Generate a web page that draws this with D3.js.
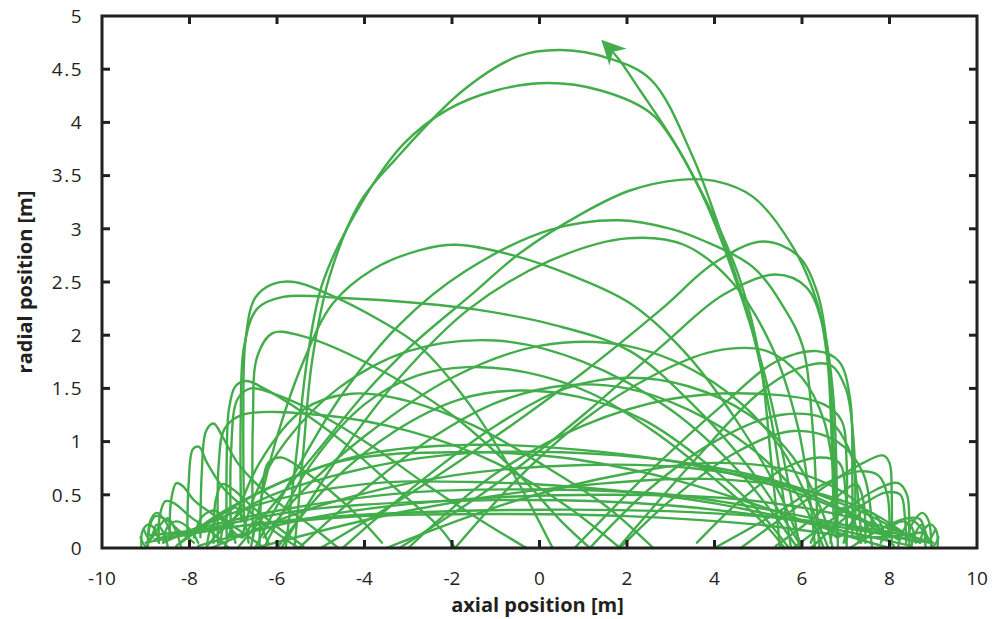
<!DOCTYPE html>
<html>
<head>
<meta charset="utf-8">
<script src="https://cdn.jsdelivr.net/npm/d3@7"></script>
<style>
  html, body { margin: 0; padding: 0; background: #fff; }
  svg { display: block; }
  .tick-label { font-family: "Open Sans", "Noto Sans", sans-serif; font-size: 19px; fill: #231f20; }
  .axis-title { font-family: "Open Sans", "Noto Sans", sans-serif; font-size: 20px; font-weight: 700; fill: #231f20; }
</style>
</head>
<body>
<svg id="chart" width="993" height="619"></svg>
<script>
// Axis ticks
const xTicks = [-10, -8, -6, -4, -2, 0, 2, 4, 6, 8, 10];
const yTicks = [0, 0.5, 1, 1.5, 2, 2.5, 3, 3.5, 4, 4.5, 5];

// Trajectory pieces in (axial, radial) metres.
// Tall excursions reaching above 4 m
const tallArcs = [
  [[-5.6,0],[-5.4,0.9],[-5.2,1.75],[-4.8,2.55],[-4.1,3.25],[-3.3,3.65],[-1.75,4.3],[-0.5,4.62],[0.5,4.68],[1.6,4.6],[2.55,4.4],[3.5,3.68],[4.2,2.9],[4.8,2.14],[5.3,1.2],[5.6,0.4],[5.75,0]],
  [[-5.8,0],[-5.55,0.9],[-5.3,1.8],[-4.95,2.5],[-4.03,3.27],[-3.1,3.8],[-2.1,4.12],[-1.0,4.3],[0.2,4.37],[1.4,4.3],[2.5,4.1],[3.0,3.86],[3.8,3.25],[4.5,2.5],[5.1,1.7],[5.6,0.8],[5.95,0]]
];

// Excursions peaking between 2.3 and 3.5 m
const upperArcs = [
  [[-6.9,0],[-6.0,0.45],[-5.0,0.95],[-4.0,1.45],[-2.96,1.89],[-1.5,2.4],[-0.45,2.77],[1.0,3.15],[2.07,3.36],[3.2,3.46],[4.0,3.45],[4.88,3.3],[5.79,2.83],[6.35,2.3],[6.58,1.77],[6.68,1.0],[6.72,0.3]],
  [[-6.5,0],[-5.6,0.7],[-4.5,1.45],[-3.2,2.1],[-1.7,2.6],[0.24,2.99],[1.8,3.08],[3.0,3.0],[3.74,2.89],[4.88,2.64],[5.6,2.25],[6.02,1.89],[6.25,1.1],[6.35,0.3],[6.4,0]],
  [[-5.9,0],[-4.6,0.85],[-3.2,1.6],[-1.6,2.25],[0.24,2.7],[2.0,2.91],[3.3,2.85],[4.4,2.5],[5.3,1.9],[5.9,1.15],[6.2,0.4],[6.3,0]],
  [[-6.6,0],[-6.1,0.9],[-5.4,1.75],[-4.72,2.3],[-3.8,2.62],[-2.73,2.8],[-1.9,2.85],[-0.6,2.75],[0.8,2.55],[2.07,2.3],[3.3,1.85],[4.5,1.2],[5.5,0.5],[6.0,0]],
  [[-6.75,0.25],[-6.77,1.2],[-6.72,1.95],[-6.5,2.35],[-6.1,2.48],[-5.6,2.5],[-4.9,2.4],[-3.65,2.14],[-2.73,1.89],[-1.6,1.35],[-0.6,0.7],[0.3,0]],
  [[-6.82,0.25],[-6.83,1.2],[-6.75,1.9],[-6.45,2.25],[-5.86,2.36],[-4.5,2.35],[-2.73,2.3],[-1.43,2.24],[0.3,2.1],[2.07,1.85],[3.5,1.35],[4.8,0.75],[5.7,0.2],[6.0,0]],
  [[-5.0,0],[-3.0,0.5],[-1.0,1.05],[1.0,1.65],[2.8,2.25],[4.0,2.68],[5.1,2.88],[5.9,2.75],[6.35,2.4],[6.6,1.8],[6.72,1.0],[6.78,0.2]],
  [[-3.2,0],[-1.0,0.6],[1.0,1.25],[2.8,1.9],[4.2,2.38],[5.4,2.57],[6.1,2.45],[6.5,2.05],[6.72,1.4],[6.8,0.5],[6.82,0]]
];

// Excursions peaking between 1 and 2 m
const middleArcs = [
  [[0.8,0],[2.6,0.75],[4.2,1.35],[5.4,1.75],[6.35,1.85],[6.85,1.75],[7.1,1.4],[7.15,0.7],[7.15,0.1]],
  [[1.8,0],[3.6,0.85],[5.0,1.45],[6.0,1.7],[6.65,1.72],[7.0,1.5],[7.18,1.0],[7.22,0.3]],
  [[-6.3,0],[-5.2,0.8],[-4.0,1.35],[-2.8,1.62],[-1.66,1.7],[-0.3,1.65],[1.2,1.45],[2.6,1.1],[4.0,0.65],[5.2,0.2],[5.6,0]],
  [[-6.0,0],[-4.8,0.6],[-3.3,1.1],[-1.8,1.4],[-0.5,1.48],[0.9,1.42],[2.4,1.2],[3.8,0.8],[5.0,0.35],[5.7,0]],
  [[-5.5,0],[-4.0,0.55],[-2.4,1.05],[-0.9,1.38],[0.63,1.53],[2.0,1.5],[3.4,1.3],[4.8,0.95],[5.9,0.5],[6.5,0]],
  [[-4.5,0],[-2.8,0.6],[-1.0,1.15],[0.6,1.5],[2.0,1.6],[3.4,1.52],[4.8,1.25],[5.8,0.85],[6.5,0.3],[6.7,0]],
  [[-7.2,0],[-6.4,0.8],[-5.4,1.3],[-4.3,1.45],[-3.0,1.38],[-1.5,1.15],[0.0,0.8],[1.5,0.4],[2.6,0]],
  [[-7.15,0.1],[-7.15,0.8],[-7.1,1.3],[-6.95,1.52],[-6.7,1.57],[-6.3,1.5],[-5.5,1.3],[-4.5,1.0],[-3.4,0.6],[-2.3,0.2],[-1.93,0]],
  [[-7.05,0.1],[-7.05,0.9],[-6.9,1.4],[-6.6,1.5],[-6.0,1.44],[-5.0,1.25],[-3.8,0.95],[-2.6,0.6],[-1.3,0.25],[-0.3,0]],
  [[-1.93,0],[-0.5,0.65],[1.0,1.2],[2.5,1.6],[4.0,1.85],[5.2,1.85],[6.0,1.6],[6.5,1.2],[6.75,0.6],[6.8,0.1]],
  [[-7.35,0.05],[-7.33,0.8],[-7.2,1.12],[-6.8,1.25],[-5.0,1.25],[-3.0,1.1],[-1.0,0.8],[0.6,0.4],[1.84,0]],
  [[-6.55,0.1],[-6.55,1.2],[-6.45,1.8],[-6.1,2.02],[-5.5,2.0],[-4.0,1.75],[-2.0,1.25],[-0.5,0.7],[0.5,0.25],[1.15,0]],
  [[1.15,0],[2.5,0.55],[4.0,1.0],[5.5,1.25],[6.6,1.2],[7.1,0.9],[7.3,0.4],[7.35,0.05]],
  [[1.84,0],[3.0,0.45],[4.5,0.9],[5.8,1.1],[6.8,1.0],[7.4,0.7],[7.6,0.2]],
  [[7.0,0.05],[7.02,0.8],[6.9,1.2],[6.5,1.35],[5.0,1.45],[3.0,1.4],[1.0,1.15],[-1.0,0.7],[-2.2,0.3],[-3.0,0]],
  [[5.9,0],[4.6,0.7],[3.0,1.3],[1.0,1.75],[-1.0,1.95],[-3.0,1.85],[-4.6,1.5],[-5.8,1.0],[-6.5,0.5],[-6.8,0.1]],
  [[6.6,0],[5.5,0.95],[4.0,1.55],[2.0,1.9],[0.0,1.9],[-2.0,1.6],[-4.0,1.05],[-5.5,0.5],[-6.3,0.1]]
];

// Long, shallow crossings of the whole trap
const lowBandArcs = [
  [[-8.2,0.05],[-6.5,0.5],[-4.5,0.82],[-2.0,0.9],[0.5,0.85],[3.0,0.65],[5.0,0.4],[7.0,0.12],[8.0,0]],
  [[-7.5,0],[-5.0,0.4],[-2.0,0.68],[1.0,0.78],[3.5,0.75],[5.5,0.6],[7.0,0.35],[8.2,0.08]],
  [[-8.6,0.05],[-6.5,0.4],[-4.0,0.6],[-1.5,0.62],[1.5,0.55],[4.0,0.42],[6.5,0.2],[8.5,0.02]],
  [[-8.8,0.08],[-6.0,0.35],[-3.0,0.52],[0.0,0.55],[3.0,0.5],[6.0,0.3],[8.7,0.05]],
  [[-7.8,0.02],[-5.0,0.3],[-2.0,0.45],[1.5,0.5],[4.5,0.46],[7.0,0.3],[8.6,0.1]],
  [[-8.4,0.1],[-5.5,0.35],[-1.0,0.45],[3.0,0.4],[6.5,0.22],[8.9,0.05]],
  [[-9.0,0.05],[-6.0,0.25],[0.0,0.36],[5.0,0.3],[8.0,0.15],[9.0,0.05]],
  [[-6.5,0],[-3.0,0.35],[0.5,0.57],[3.8,0.65],[6.0,0.55],[7.5,0.35],[8.3,0.15]],
  [[-3.5,0],[-0.5,0.45],[2.0,0.7],[4.0,0.8],[5.8,0.72],[7.2,0.45],[7.9,0.1]],
  [[-8.3,0.02],[-7.4,0.3],[-6.0,0.6],[-4.0,0.88],[-1.5,0.97],[1.0,0.92],[3.5,0.78],[6.0,0.5],[7.6,0.2],[8.1,0.02]],
  [[-7.6,0.02],[-6.6,0.4],[-4.5,0.7],[-2.0,0.88],[0.5,0.9],[3.0,0.82],[5.5,0.62],[7.3,0.35],[8.4,0.12]],
  [[-8.9,0.12],[-7.0,0.2],[-4.0,0.3],[-1.0,0.32],[2.0,0.3],[5.0,0.22],[7.5,0.1],[8.8,0.15]]
];

// Turning loops near the left end of the trap
const leftTurnLoops = [
  [[-7.75,0.1],[-7.72,0.7],[-7.62,1.1],[-7.45,1.17],[-7.25,1.05],[-6.9,0.8],[-6.2,0.5],[-5.2,0.2],[-4.6,0]],
  [[-8.05,0.1],[-8.02,0.6],[-7.92,0.93],[-7.78,0.95],[-7.6,0.8],[-7.2,0.55],[-6.5,0.3],[-5.8,0.08],[-5.5,0]],
  [[-8.45,0.1],[-8.42,0.45],[-8.3,0.61],[-8.15,0.58],[-7.9,0.45],[-7.4,0.3],[-6.8,0.15],[-6.3,0]],
  [[-8.7,0.05],[-8.68,0.3],[-8.55,0.44],[-8.35,0.42],[-8.0,0.3],[-7.5,0.15],[-7.1,0]],
  [[-8.95,0.05],[-8.9,0.22],[-8.78,0.3],[-8.55,0.27],[-8.2,0.15],[-7.9,0.05]],
  [[-9.1,0.02],[-9.08,0.15],[-8.95,0.22],[-8.8,0.18],[-8.7,0.05]],
  [[-9.12,0.1],[-9.0,0.02],[-8.85,0.12],[-8.75,0.22],[-8.6,0.15],[-8.5,0.02]],
  [[-9.05,0.18],[-8.9,0.08],[-8.7,0.2],[-8.5,0.28],[-8.3,0.15],[-8.2,0.02]],
  [[-8.95,0.02],[-8.9,0.25],[-8.75,0.33],[-8.55,0.25],[-8.4,0.1]],
  [[-8.6,0.05],[-8.5,0.2],[-8.3,0.25],[-8.0,0.18],[-7.8,0.05]],
  [[-7.6,0.02],[-7.5,0.2],[-7.3,0.28],[-7.1,0.22],[-6.95,0.05]],
  [[-7.3,0.05],[-7.15,0.3],[-6.95,0.38],[-6.75,0.25],[-6.65,0.05]],
  [[-7.9,0.1],[-7.7,0.3],[-7.4,0.35],[-7.1,0.2],[-6.8,0.1],[-6.5,0.25],[-6.2,0.05]],
  [[-7.45,0.05],[-7.4,0.45],[-7.25,0.6],[-7.0,0.55],[-6.6,0.4],[-6.0,0.2],[-5.4,0.02]],
  [[-6.4,0.02],[-6.35,0.5],[-6.2,0.8],[-5.9,0.85],[-5.3,0.7],[-4.4,0.4],[-3.6,0.05]]
];

// Turning loops near the right end of the trap
const rightTurnLoops = [
  [[4.6,0],[5.6,0.3],[6.6,0.6],[7.4,0.8],[7.85,0.87],[8.0,0.8],[8.05,0.5],[8.05,0.05]],
  [[4.0,0],[5.3,0.3],[6.5,0.6],[7.3,0.72],[7.75,0.68],[7.95,0.5],[8.0,0.1]],
  [[5.8,0],[6.8,0.3],[7.7,0.55],[8.2,0.61],[8.4,0.5],[8.45,0.2],[8.45,0]],
  [[6.2,0],[7.2,0.35],[7.9,0.52],[8.25,0.5],[8.35,0.3],[8.38,0.05]],
  [[7.1,0],[7.8,0.18],[8.4,0.28],[8.7,0.27],[8.8,0.15],[8.82,0]],
  [[8.7,0.05],[8.8,0.18],[8.95,0.22],[9.08,0.15],[9.1,0.02]],
  [[8.5,0.02],[8.6,0.15],[8.75,0.22],[8.85,0.12],[9.0,0.02],[9.12,0.1]],
  [[8.2,0.02],[8.3,0.15],[8.5,0.26],[8.7,0.2],[8.9,0.08],[9.05,0.18]],
  [[8.4,0.1],[8.55,0.25],[8.75,0.33],[8.9,0.25],[8.95,0.02]],
  [[7.8,0.05],[8.0,0.18],[8.3,0.25],[8.5,0.2],[8.6,0.05]],
  [[6.95,0.05],[7.1,0.22],[7.3,0.28],[7.5,0.2],[7.6,0.02]],
  [[6.65,0.05],[6.75,0.25],[6.95,0.38],[7.15,0.3],[7.3,0.05]],
  [[6.2,0.05],[6.5,0.25],[6.8,0.1],[7.1,0.2],[7.4,0.35],[7.7,0.3],[7.9,0.1]],
  [[5.4,0.02],[6.0,0.2],[6.6,0.4],[7.0,0.55],[7.25,0.6],[7.4,0.45],[7.45,0.05]],
  [[3.6,0.05],[4.6,0.45],[5.6,0.75],[6.4,0.85],[6.85,0.8],[7.0,0.5],[7.02,0.02]]
];

// Last stretch of the trajectory, ending in the arrowhead
const finalLeg = [[5.5,0],[5.3,0.8],[5.04,1.77],[4.6,2.5],[4.06,3.05],[3.44,3.55],[2.98,3.88],[2.3,4.3],[1.8,4.6],[1.45,4.76]];

const W = 993, H = 619;
const margin = { left: 102, right: 16, top: 16, bottom: 71 };
const svg = d3.select("#chart");
const ink = "#231f20";
const green = "#42ad4a";

const x = d3.scaleLinear().domain([-10, 10]).range([margin.left, W - margin.right]);
const y = d3.scaleLinear().domain([0, 5]).range([H - margin.bottom, margin.top]);

const defs = svg.append("defs");
defs.append("marker")
  .attr("id", "head")
  .attr("viewBox", "0 0 10 10")
  .attr("refX", 9)
  .attr("refY", 5)
  .attr("markerUnits", "userSpaceOnUse")
  .attr("markerWidth", 30)
  .attr("markerHeight", 24)
  .attr("orient", "auto")
  .append("path")
  .attr("d", "M0,0 L10,5 L0,10 L3,5 Z")
  .attr("fill", green);

defs.append("clipPath").attr("id", "plot-clip")
  .append("rect")
  .attr("x", x(-10)).attr("y", y(5) - 2)
  .attr("width", x(10) - x(-10)).attr("height", y(0) - y(5) + 6);

const line = d3.line()
  .x(d => x(d[0]))
  .y(d => y(d[1]))
  .curve(d3.curveCatmullRom.alpha(0.5));

const traj = svg.append("g").attr("clip-path", "url(#plot-clip)");
const pieces = [].concat(lowBandArcs, leftTurnLoops, rightTurnLoops, middleArcs, upperArcs, tallArcs);
traj.selectAll("path.seg")
  .data(pieces)
  .join("path")
  .attr("class", "seg")
  .attr("d", line)
  .attr("fill", "none")
  .attr("stroke", green)
  .attr("stroke-width", 2.4)
  .attr("stroke-linejoin", "round")
  .attr("stroke-linecap", "round");

svg.append("path")
  .datum(finalLeg)
  .attr("d", line)
  .attr("fill", "none")
  .attr("stroke", green)
  .attr("stroke-width", 2.4)
  .attr("marker-end", "url(#head)");

// Frame and inward ticks on all four sides
const frame = svg.append("g");
const tickLen = 8;
const innerX = xTicks.slice(1, -1);
const innerY = yTicks.slice(1, -1);

frame.selectAll("line.bt").data(innerX).join("line")
  .attr("class", "bt")
  .attr("x1", d => x(d)).attr("x2", d => x(d))
  .attr("y1", y(0)).attr("y2", y(0) - tickLen)
  .attr("stroke", ink).attr("stroke-width", 3);
frame.selectAll("line.tt").data(innerX).join("line")
  .attr("class", "tt")
  .attr("x1", d => x(d)).attr("x2", d => x(d))
  .attr("y1", y(5)).attr("y2", y(5) + tickLen)
  .attr("stroke", ink).attr("stroke-width", 3);
frame.selectAll("line.lt").data(innerY).join("line")
  .attr("class", "lt")
  .attr("x1", x(-10)).attr("x2", x(-10) + tickLen)
  .attr("y1", d => y(d)).attr("y2", d => y(d))
  .attr("stroke", ink).attr("stroke-width", 3);
frame.selectAll("line.rt").data(innerY).join("line")
  .attr("class", "rt")
  .attr("x1", x(10)).attr("x2", x(10) - tickLen)
  .attr("y1", d => y(d)).attr("y2", d => y(d))
  .attr("stroke", ink).attr("stroke-width", 3);

frame.append("rect")
  .attr("x", x(-10)).attr("y", y(5))
  .attr("width", x(10) - x(-10)).attr("height", y(0) - y(5))
  .attr("fill", "none").attr("stroke", ink).attr("stroke-width", 3);

// Tick labels
svg.selectAll("text.xl").data(xTicks).join("text")
  .attr("class", "tick-label xl")
  .attr("x", d => x(d)).attr("y", y(0) + 37)
  .attr("text-anchor", "middle")
  .text(d => d < 0 ? "-" + Math.abs(d) : String(d));

svg.selectAll("text.yl").data(yTicks).join("text")
  .attr("class", "tick-label yl")
  .attr("x", x(-10) - 19).attr("y", d => y(d))
  .attr("dy", "0.36em")
  .attr("text-anchor", "end")
  .attr("letter-spacing", "1.5")
  .text(d => String(d));

// Axis titles
svg.append("text")
  .attr("class", "axis-title")
  .attr("x", (x(-10) + x(10)) / 2 - 2).attr("y", H - 7)
  .attr("text-anchor", "middle")
  .text("axial position [m]");

svg.append("text")
  .attr("class", "axis-title")
  .attr("transform", `translate(32, ${(y(0) + y(5)) / 2}) rotate(-90)`)
  .attr("text-anchor", "middle")
  .text("radial position [m]");
</script>
</body>
</html>
